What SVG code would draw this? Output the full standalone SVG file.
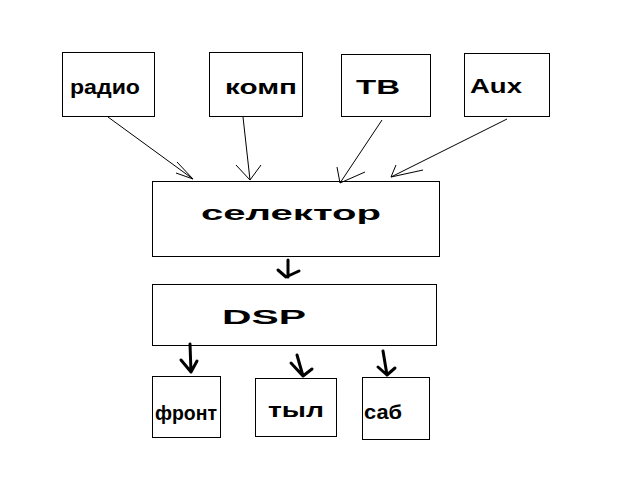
<svg xmlns="http://www.w3.org/2000/svg" width="627" height="486" viewBox="0 0 627 486">
<style>
.box{fill:#fff;stroke:#000;stroke-width:1}
.lbl{font-family:"Liberation Sans",Arial,sans-serif;font-weight:bold;font-size:21px;fill:#000}
.thin{fill:none;stroke:#000;stroke-width:1}
.thick{fill:none;stroke:#000;stroke-width:3;stroke-linecap:round;stroke-linejoin:round}
</style>
<rect width="627" height="486" fill="#fff"/>
<g id="radio"><rect class="box" x="62.5" y="52.5" width="92" height="64"/><text class="lbl" x="70" y="94" textLength="70" lengthAdjust="spacingAndGlyphs">радио</text></g>
<g id="komp"><rect class="box" x="209.5" y="52.5" width="93" height="64"/><text class="lbl" x="225" y="94" textLength="72" lengthAdjust="spacingAndGlyphs">комп</text></g>
<g id="tv"><rect class="box" x="341.5" y="54.5" width="89" height="62"/><text class="lbl" x="356" y="94" textLength="44" lengthAdjust="spacingAndGlyphs">ТВ</text></g>
<g id="aux"><rect class="box" x="464.5" y="53.5" width="85" height="63"/><text class="lbl" x="470" y="93" textLength="52" lengthAdjust="spacingAndGlyphs">Aux</text></g>
<g id="selector"><rect class="box" x="152.5" y="181.5" width="287" height="75"/><text class="lbl" x="201" y="220" font-size="24" textLength="180" lengthAdjust="spacingAndGlyphs">селектор</text></g>
<g id="dsp"><rect class="box" x="152.5" y="284.5" width="284" height="61"/><text class="lbl" x="222" y="324" font-size="28" textLength="84" lengthAdjust="spacingAndGlyphs">DSP</text></g>
<g id="front"><rect class="box" x="152.5" y="376.5" width="68" height="61"/><text class="lbl" x="155" y="420" font-size="18" textLength="62" lengthAdjust="spacingAndGlyphs">фронт</text></g>
<g id="tyl"><rect class="box" x="255.5" y="378.5" width="81" height="58"/><text class="lbl" x="268" y="417" textLength="56" lengthAdjust="spacingAndGlyphs">тыл</text></g>
<g id="sab"><rect class="box" x="362.5" y="377.5" width="67" height="62"/><text class="lbl" x="364" y="419" textLength="38" lengthAdjust="spacingAndGlyphs">саб</text></g>
<g id="connectors">
<path class="thin" d="M108 117 L193 179 M176 173 L193 179 M177 162 L193 179"/>
<path class="thin" d="M243 117 L250 180 M236 165 L250 180 L261 165"/>
<path class="thin" d="M382 120 L340 183 M337 167 L340 183 L365 172"/>
<path class="thin" d="M507 119 L391 177 M396 165 L391 177 L423 170"/>
<path class="thick" d="M288 260 L288 277 M278 270 L286 277 L299 271"/>
<path class="thick" d="M190 344 L191 372 M181 360 L191 372 L197 361"/>
<path class="thick" d="M297 355 L303 376 M291 363 L303 376 L312 369"/>
<path class="thick" d="M383 351 L387 375 M378 367 L387 375 L395 368"/>
</g>
</svg>
